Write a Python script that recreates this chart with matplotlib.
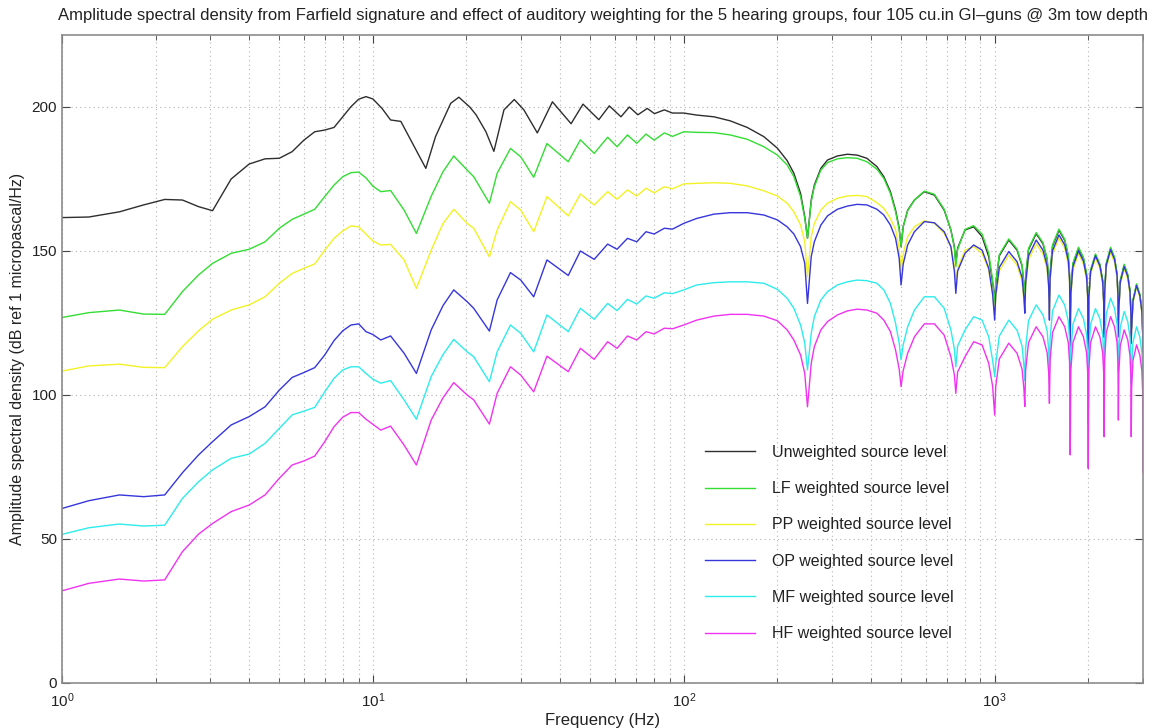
import numpy as np
import matplotlib
matplotlib.use("Agg")
import matplotlib.pyplot as plt
from matplotlib.ticker import LogLocator, NullFormatter, MultipleLocator

plt.rcParams['font.family'] = ['Liberation Sans', 'DejaVu Sans']
plt.rcParams['mathtext.fontset'] = 'custom'
plt.rcParams['mathtext.rm'] = 'Liberation Sans'
plt.rcParams['mathtext.it'] = 'Liberation Sans:italic'

# frequency points (Hz); the unweighted spectrum and the weighted ones
# are sampled a little differently below 100 Hz
freq_unw_low = [1.0, 1.22, 1.53, 1.83, 2.14, 2.44, 2.75, 3.05, 3.5, 4.0,
                4.5, 5.0, 5.5, 6.0, 6.5, 7.0, 7.5, 8.0, 8.5, 9.0,
                9.5, 10.0, 10.7, 11.4, 12.3, 13.5, 14.8, 15.9, 17.8, 18.9,
                20.5, 21.5, 23.1, 24.5, 26.4, 28.5, 30.6, 33.8, 37.8, 43.4,
                47.4, 53.3, 57.6, 62.8, 66.8, 71.2, 76.3, 80.5, 86.6, 92.0]
freq_w_low = [1.0, 1.22, 1.53, 1.83, 2.14, 2.44, 2.75, 3.05, 3.5, 4.0,
              4.5, 5.0, 5.5, 6.0, 6.5, 7.0, 7.5, 8.0, 8.5, 9.0,
              9.5, 10.0, 10.6, 11.4, 12.6, 13.8, 15.4, 16.8, 18.2, 20.1,
              21.1, 23.7, 25.1, 27.7, 29.9, 32.9, 36.3, 42.5, 46.5, 51.5,
              56.9, 61.0, 65.9, 70.6, 75.6, 80.3, 86.6, 92.0]
freq_high = [100, 110, 125, 141, 160, 181, 200, 215, 226, 237.5,
             245, 250, 257, 263, 276, 290, 312, 336, 361, 388,
             418, 440, 462, 480, 493, 500, 508, 525, 552, 594,
             640, 688, 723, 742, 750, 760, 803, 856, 911, 957,
             985, 1000,
             1008, 1035, 1110, 1180, 1225, 1242, 1250,
             1258, 1285, 1360, 1430, 1475, 1492, 1500,
             1508, 1535, 1610, 1680, 1725, 1742, 1750,
             1758, 1785, 1860, 1930, 1975, 1992, 2000,
             2008, 2035, 2110, 2180, 2225, 2242, 2250,
             2258, 2285, 2360, 2430, 2475, 2492, 2500,
             2508, 2535, 2610, 2680, 2725, 2742, 2750,
             2758, 2785, 2860, 2930, 2975, 2992, 3000]

# source levels, dB re 1 uPa/Hz
unw_low = [161.6, 161.8, 163.6, 166.0, 167.9, 167.7, 165.4, 164.0, 175.0, 180.2,
           182.0, 182.2, 184.5, 188.5, 191.4, 192.0, 192.9, 196.6, 200.1, 202.7,
           203.6, 202.8, 199.5, 195.5, 195.0, 186.8, 178.7, 189.7, 201.3, 203.4,
           200.0, 197.2, 191.4, 184.6, 199.0, 202.6, 199.0, 191.0, 201.8, 194.2,
           201.0, 195.6, 200.4, 196.6, 200.0, 197.3, 199.5, 197.7, 199.0, 197.9]
unw_high = [197.9, 197.2, 196.6, 195.2, 192.9, 189.7, 185.7, 181.4, 177.0, 170.0,
            161.9, 154.4, 167.7, 172.9, 178.7, 181.6, 183.0, 183.6, 183.3, 182.2,
            179.3, 175.8, 170.6, 164.2, 158.0, 151.5, 158.5, 164.2, 167.7, 170.6,
            169.4, 164.2, 157.3, 151.5, 145.7, 151.0, 157.3, 158.4, 155.0, 148.0,
            139.0, 133.0,
            138.8, 148.3, 153.8, 150.3, 144.8, 137.8, 136.0,
            141.0, 150.5, 156.0, 152.5, 147.0, 140.0, 135.0,
            142.2, 151.7, 157.2, 153.7, 148.2, 141.2, 128.0,
            135.9, 145.4, 150.9, 147.4, 141.9, 134.9, 110.0,
            133.6, 143.1, 148.6, 145.1, 139.6, 132.6, 130.0,
            135.9, 145.4, 150.9, 147.4, 141.9, 134.9, 128.0,
            130.0, 139.5, 145.0, 141.5, 136.0, 129.0, 126.0,
            123.2, 132.7, 138.2, 134.7, 129.2, 122.2, 120.0]

lf_low = [126.9, 128.6, 129.5, 128.1, 128.0, 135.9, 141.7, 145.7, 149.2, 150.6,
          153.2, 157.9, 161.0, 162.8, 164.5, 168.9, 172.9, 175.8, 177.2, 177.4,
          175.4, 172.5, 170.6, 171.0, 164.2, 156.1, 169.0, 177.5, 183.0, 178.1,
          175.8, 166.6, 177.0, 185.6, 182.7, 175.6, 187.3, 181.0, 188.6, 183.9,
          189.5, 186.2, 190.3, 187.4, 190.6, 188.5, 191.0, 189.8]
lf_high = [191.4, 191.2, 191.1, 190.3, 188.8, 186.2, 183.3, 179.9, 175.8, 168.9,
           161.3, 154.4, 167.1, 172.3, 178.1, 180.7, 182.0, 182.4, 182.2, 181.0,
           178.4, 175.2, 170.0, 163.6, 157.5, 151.5, 158.5, 164.0, 167.7, 170.8,
           169.7, 164.5, 157.3, 151.0, 144.6, 150.5, 157.5, 158.8, 155.9, 149.2,
           140.0, 131.0,
           139.2, 148.7, 154.2, 150.7, 145.2, 138.2, 134.0,
           141.4, 150.9, 156.4, 152.9, 147.4, 140.4, 134.0,
           142.6, 152.1, 157.6, 154.1, 148.6, 141.6, 126.0,
           136.3, 145.8, 151.3, 147.8, 142.3, 135.3, 105.0,
           134.0, 143.5, 149.0, 145.5, 140.0, 133.0, 128.0,
           136.3, 145.8, 151.3, 147.8, 142.3, 135.3, 126.0,
           130.4, 139.9, 145.4, 141.9, 136.4, 129.4, 124.0,
           123.6, 133.1, 138.6, 135.1, 129.6, 122.6, 118.0]

pp_low = [108.3, 110.1, 110.7, 109.6, 109.5, 116.8, 122.3, 126.3, 129.5, 131.3,
          134.1, 138.8, 142.2, 144.0, 145.5, 150.3, 154.4, 157.0, 158.7, 158.4,
          155.9, 153.5, 152.1, 152.3, 146.9, 137.0, 150.3, 159.5, 164.5, 159.6,
          157.9, 148.0, 157.3, 167.1, 164.2, 156.7, 168.9, 162.2, 169.8, 166.0,
          170.6, 168.0, 171.2, 169.1, 171.8, 170.2, 172.3, 171.6]
pp_high = [173.3, 173.5, 173.7, 173.5, 172.6, 170.9, 169.1, 166.6, 163.6, 159.0,
           153.2, 141.1, 155.0, 159.6, 164.2, 166.6, 168.3, 169.1, 169.3, 168.9,
           166.8, 164.8, 161.3, 157.3, 151.0, 143.4, 149.0, 155.0, 158.4, 160.5,
           159.6, 156.1, 151.5, 145.0, 139.9, 144.0, 150.3, 151.5, 149.2, 143.4,
           135.0, 128.0,
           133.6, 143.1, 148.6, 145.1, 139.6, 132.6, 130.0,
           137.5, 147.0, 152.5, 149.0, 143.5, 136.5, 128.0,
           139.5, 149.0, 154.5, 151.0, 145.5, 138.5, 120.0,
           134.0, 143.5, 149.0, 145.5, 140.0, 133.0, 95.0,
           132.5, 142.0, 147.5, 144.0, 138.5, 131.5, 122.0,
           134.5, 144.0, 149.5, 146.0, 140.5, 133.5, 122.0,
           128.8, 138.3, 143.8, 140.3, 134.8, 127.8, 120.0,
           122.5, 132.0, 137.5, 134.0, 128.5, 121.5, 116.0]

op_low = [60.6, 63.3, 65.3, 64.7, 65.3, 73.0, 79.2, 83.8, 89.6, 92.5,
          95.9, 101.7, 106.1, 107.8, 109.5, 113.9, 118.9, 122.3, 124.3, 124.7,
          122.0, 121.0, 119.1, 120.5, 114.5, 107.5, 122.6, 131.0, 136.5, 132.4,
          130.1, 122.2, 133.0, 142.5, 139.9, 134.1, 146.9, 141.5, 150.0, 147.1,
          152.4, 150.6, 154.4, 153.2, 156.7, 155.9, 157.9, 157.6]
op_high = [159.6, 161.3, 162.8, 163.3, 163.3, 162.5, 160.8, 158.4, 155.9, 151.5,
           145.7, 131.8, 148.0, 153.2, 159.0, 162.2, 164.5, 165.6, 166.2, 166.0,
           164.5, 162.5, 159.0, 154.4, 147.5, 138.2, 145.5, 152.1, 156.7, 160.2,
           159.8, 156.7, 151.5, 143.0, 135.3, 143.0, 149.2, 152.1, 150.3, 144.0,
           135.0, 126.0,
           134.8, 144.3, 149.8, 146.3, 140.8, 133.8, 128.4,
           138.8, 148.3, 153.8, 150.3, 144.8, 137.8, 126.0,
           140.6, 150.1, 155.6, 152.1, 146.6, 139.6, 116.8,
           135.0, 144.5, 150.0, 146.5, 141.0, 134.0, 100.0,
           133.3, 142.8, 148.3, 144.8, 139.3, 132.3, 120.0,
           135.5, 145.0, 150.5, 147.0, 141.5, 134.5, 120.2,
           129.6, 139.1, 144.6, 141.1, 135.6, 128.6, 118.0,
           123.0, 132.5, 138.0, 134.5, 129.0, 122.0, 115.0]

mf_low = [51.6, 53.9, 55.2, 54.5, 54.8, 64.1, 69.9, 74.0, 78.0, 79.5,
          83.2, 88.4, 93.1, 94.4, 95.7, 101.1, 105.8, 108.7, 109.8, 109.8,
          107.5, 105.5, 104.1, 105.0, 98.3, 91.6, 106.4, 114.0, 119.3, 115.0,
          113.3, 104.6, 115.0, 124.3, 121.4, 115.0, 127.8, 122.0, 130.1, 126.3,
          131.8, 129.3, 133.2, 131.6, 134.4, 133.6, 135.5, 135.2]
mf_high = [136.5, 138.2, 139.0, 139.3, 139.3, 138.8, 136.7, 133.6, 130.1, 124.3,
           118.0, 108.7, 121.4, 127.2, 133.0, 135.9, 138.2, 139.3, 139.9, 139.7,
           138.8, 136.5, 131.8, 124.9, 118.0, 112.2, 117.5, 123.7, 129.5, 134.1,
           134.1, 130.1, 122.6, 116.0, 109.8, 117.0, 122.6, 127.2, 126.0, 120.2,
           112.0, 106.4,
           111.0, 120.5, 126.0, 122.5, 117.0, 110.0, 105.0,
           116.3, 125.8, 131.3, 127.8, 122.3, 115.3, 108.0,
           119.7, 129.2, 134.7, 131.2, 125.7, 118.7, 102.9,
           115.0, 124.5, 130.0, 126.5, 121.0, 114.0, 90.0,
           115.0, 124.5, 130.0, 126.5, 121.0, 114.0, 105.0,
           118.6, 128.1, 133.6, 130.1, 124.6, 117.6, 108.0,
           114.0, 123.5, 129.0, 125.5, 120.0, 113.0, 104.0,
           108.7, 118.2, 123.7, 120.2, 114.7, 107.7, 100.0]

hf_low = [32.0, 34.6, 36.1, 35.4, 35.8, 45.6, 51.7, 55.4, 59.5, 61.8,
          65.3, 71.1, 75.7, 77.1, 78.8, 83.8, 89.0, 92.3, 93.9, 93.9,
          91.6, 89.8, 87.8, 89.2, 82.6, 75.7, 91.3, 99.0, 104.3, 100.0,
          98.3, 89.9, 100.6, 109.8, 106.9, 101.1, 113.5, 108.1, 116.2, 112.4,
          118.5, 116.2, 120.5, 119.1, 122.0, 121.2, 123.2, 123.0]
hf_high = [124.3, 126.0, 127.4, 128.0, 128.0, 127.4, 125.8, 122.6, 119.1, 113.9,
           107.5, 95.9, 111.0, 116.8, 122.6, 125.5, 127.8, 129.2, 129.8, 129.5,
           128.4, 126.0, 122.0, 115.6, 109.0, 102.9, 108.5, 114.5, 120.2, 124.7,
           124.7, 120.8, 113.3, 107.0, 100.6, 108.0, 113.3, 118.5, 117.4, 111.0,
           103.0, 93.0,
           103.0, 112.5, 118.0, 114.5, 109.0, 102.0, 96.0,
           108.7, 118.2, 123.7, 120.2, 114.7, 107.7, 97.1,
           112.2, 121.7, 127.2, 123.7, 118.2, 111.2, 79.2,
           108.7, 118.2, 123.7, 120.2, 114.7, 107.7, 74.5,
           108.7, 118.2, 123.7, 120.2, 114.7, 107.7, 85.5,
           112.2, 121.7, 127.2, 123.7, 118.2, 111.2, 91.3,
           107.6, 117.1, 122.6, 119.1, 113.6, 106.6, 85.5,
           102.4, 111.9, 117.4, 113.9, 108.4, 101.4, 73.0]

labels = ['Unweighted source level', 'LF weighted source level',
          'PP weighted source level', 'OP weighted source level',
          'MF weighted source level', 'HF weighted source level']
colors = ['#2e2e2e', '#33dd33', '#f2f226', '#3636dc', '#2eecec', '#f033f0']

f_unw = np.array(freq_unw_low + freq_high)
f_w = np.array(freq_w_low + freq_high)
curves = [(f_unw, unw_low + unw_high),
          (f_w, lf_low + lf_high),
          (f_w, pp_low + pp_high),
          (f_w, op_low + op_high),
          (f_w, mf_low + mf_high),
          (f_w, hf_low + hf_high)]

fig = plt.figure(figsize=(11.55, 7.28), dpi=100)
ax = fig.add_axes([62 / 1155, 45 / 728, 1081 / 1155, 648 / 728])

for (f, v), lab, c in zip(curves, labels, colors):
    ax.semilogx(f, np.array(v), color=c, lw=1.0, label=lab)

ax.set_xlim(1, 3000)
ax.set_ylim(0, 225)
ax.yaxis.set_major_locator(MultipleLocator(50))
ax.xaxis.set_major_locator(LogLocator(base=10))
ax.xaxis.set_minor_locator(LogLocator(base=10, subs=np.arange(2, 10)))
ax.xaxis.set_minor_formatter(NullFormatter())

grid_kw = dict(color='#b4b4b4', linestyle=(0, (1, 3)), linewidth=0.8)
ax.grid(True, which='major', axis='both', **grid_kw)
ax.grid(True, which='minor', axis='x', **grid_kw)
ax.set_axisbelow(True)

for s in ax.spines.values():
    s.set_color('#8c8c8c')
    s.set_linewidth(1.2)
ax.tick_params(which='both', direction='in', top=True, right=True,
               colors='#444444', labelcolor='#222222', labelsize=11)
ax.tick_params(which='major', length=6)
ax.tick_params(which='minor', length=3.5)
ax.tick_params(axis='x', pad=6)

ax.set_title('Amplitude spectral density from Farfield signature and effect of auditory '
             'weighting for the 5 hearing groups, four 105 cu.in GI\u2013guns @ 3m tow depth',
             fontsize=12, color='#222222', pad=11)
ax.set_xlabel('Frequency (Hz)', fontsize=12, color='#222222', labelpad=2)
ax.set_ylabel('Amplitude spectral density (dB ref 1 micropascal/Hz)',
              fontsize=11.5, color='#222222', labelpad=5)

leg = ax.legend(loc='upper left', bbox_to_anchor=(705 / 1155, 1 - 445 / 728),
                bbox_transform=fig.transFigure, frameon=False, fontsize=11.5,
                borderpad=0, borderaxespad=0, handlelength=3.1,
                handletextpad=1.1, labelspacing=1.33)
for t in leg.get_texts():
    t.set_color('#222222')

fig.savefig('out.png', dpi=100)
